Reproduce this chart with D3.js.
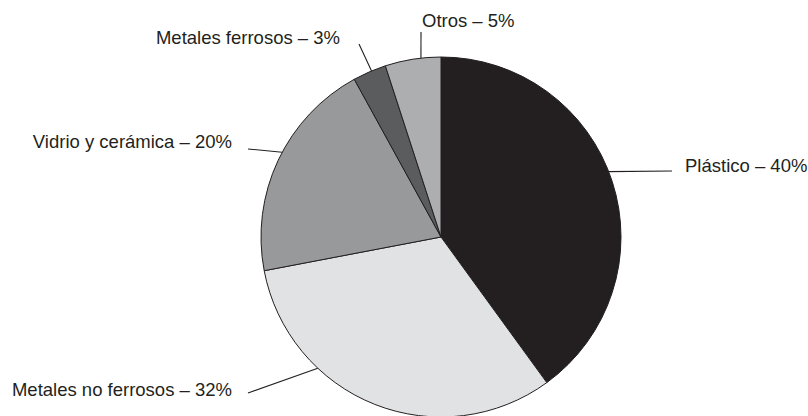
<!DOCTYPE html>
<html lang="es">
<head>
    <meta charset="UTF-8">
    <title>Composición de residuos</title>
    <script src="https://d3js.org/d3.v7.min.js"></script>
    <style>
        body { margin: 0; background: #fff; }
        .label {
            font-family: "Liberation Sans", Arial, sans-serif;
            font-size: 18.5px;
            fill: #231f20;
        }
    </style>
</head>
<body>
<svg width="808" height="416"></svg>

<script>
    // data
    const categories = ["Plástico", "Metales no ferrosos", "Vidrio y cerámica", "Metales ferrosos", "Otros"];
    const percents = [40, 32, 20, 3, 5];
    const fills = ["#231f20", "#e1e2e4", "#98999b", "#5b5c5e", "#adaeb0"];

    // label layout: angle where leader meets the pie (deg, clockwise from top),
    // outer end of the leader and text anchor
    const labelLayout = [
        { angle: 68.7,  end: [672, 171], text: [685, 172], anchor: "start" },
        { angle: 223.2, end: [248, 393], text: [232, 396], anchor: "end" },
        { angle: 298.1, end: [248, 149], text: [232, 148], anchor: "end" },
        { angle: 337.3, end: [359, 44],  text: [340, 44],  anchor: "end" },
        { angle: 353.6, end: [421, 32],  text: [422, 27],  anchor: "start" }
    ];

    const svg = d3.select("svg");
    const cx = 441, cy = 237, radius = 180;

    const pie = d3.pie().sort(null).value(d => d);
    const arcs = pie(percents);
    const arc = d3.arc().innerRadius(0).outerRadius(radius);

    const g = svg.append("g").attr("transform", `translate(${cx},${cy})`);

    g.selectAll("path")
        .data(arcs)
        .enter()
        .append("path")
        .attr("d", arc)
        .attr("fill", (d, i) => fills[i])
        .attr("stroke", "#231f20")
        .attr("stroke-width", 1)
        .attr("stroke-linejoin", "round");

    // leader lines
    svg.append("g").selectAll("line")
        .data(labelLayout)
        .enter()
        .append("line")
        .attr("x1", d => cx + radius * Math.sin(d.angle * Math.PI / 180))
        .attr("y1", d => cy - radius * Math.cos(d.angle * Math.PI / 180))
        .attr("x2", d => d.end[0])
        .attr("y2", d => d.end[1])
        .attr("stroke", "#231f20")
        .attr("stroke-width", 1.1);

    // labels
    svg.append("g").selectAll("text")
        .data(labelLayout)
        .enter()
        .append("text")
        .attr("class", "label")
        .attr("x", d => d.text[0])
        .attr("y", d => d.text[1])
        .attr("text-anchor", d => d.anchor)
        .text((d, i) => `${categories[i]} – ${percents[i]}%`);
</script>
</body>
</html>
